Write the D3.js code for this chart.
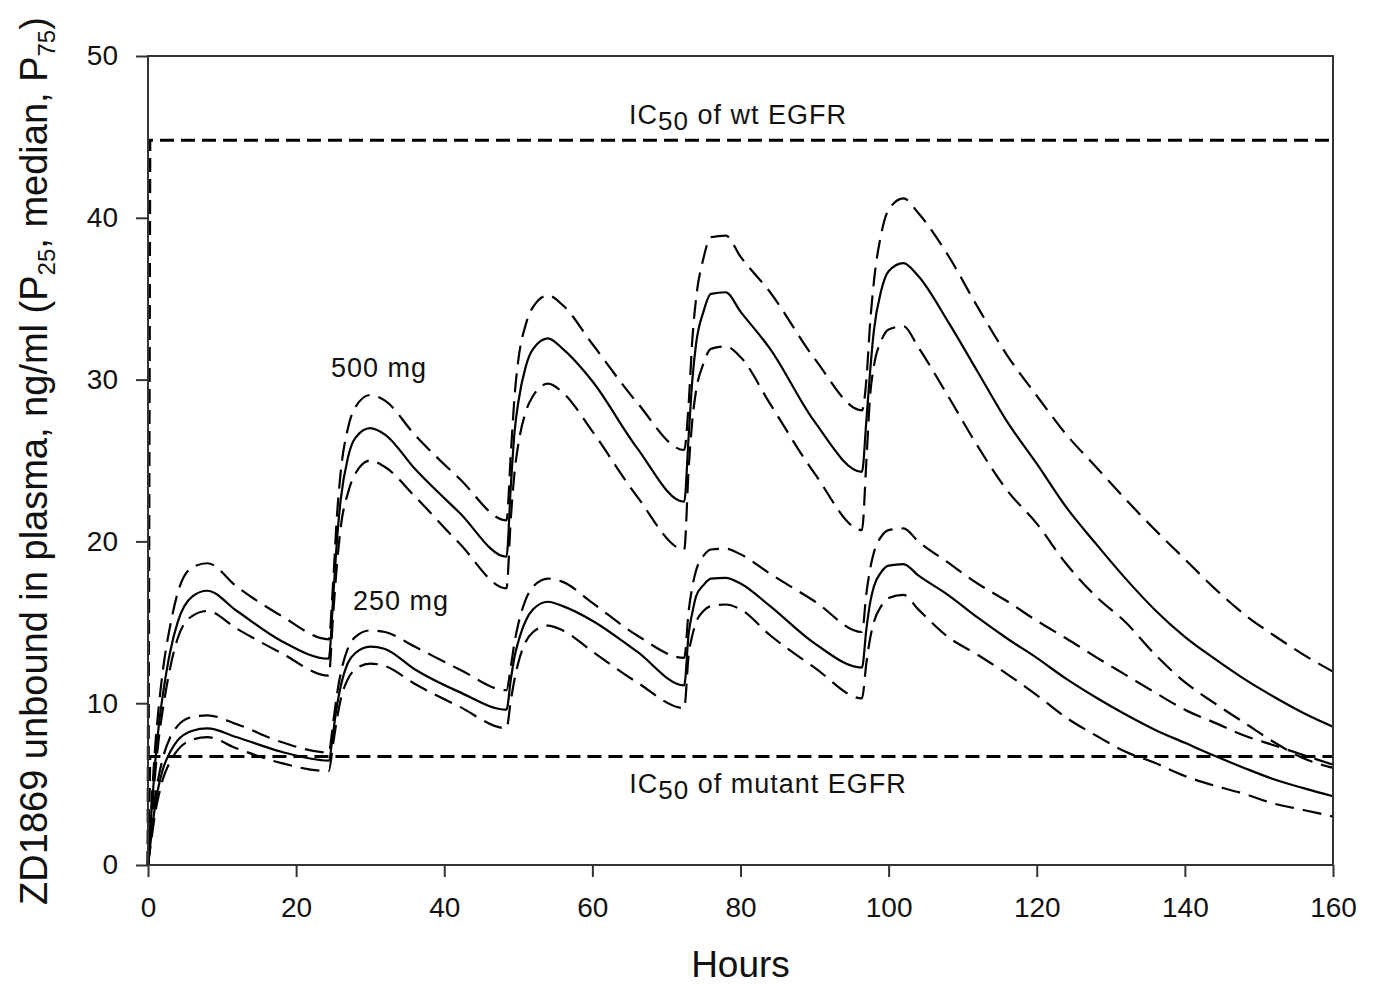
<!DOCTYPE html>
<html>
<head>
<meta charset="utf-8">
<script src="https://cdn.jsdelivr.net/npm/d3@7"></script>
<style>
  html, body { margin: 0; padding: 0; background: #fff; }
  svg { display: block; }
  text { font-family: "Liberation Sans", Arial, sans-serif; fill: #111; }
</style>
</head>
<body>
<svg id="chart" width="1376" height="985"></svg>
<script>
// ---------- data ----------
const hours = [0,0.5,1,1.5,2,3,4,6,8,12,18,24.4,
  25,25.5,26,27,28,30,32,36,42,48.4,
  49,49.5,50,51,52,54,56,60,66,72.4,
  73,73.5,74,75,76,78,80,84,90,96.4,
  97,97.5,98,99,100,102,104,108,112,116,120,124,128,132,136,140,144,148,152,156,160];

const median500 = [0,3.5,6.5,8.8,10.5,13.2,15.0,16.6,16.95,15.7,13.85,12.75,
  16.5,20.0,22.5,25.2,26.4,27.0,26.6,24.5,21.8,19.05,
  23.5,26.8,28.6,30.8,31.9,32.55,31.9,29.9,25.8,22.45,
  26.5,30.0,32.2,34.2,35.3,35.4,34.2,31.9,27.4,24.3,
  27.5,30.5,33.0,35.5,36.7,37.2,36.4,33.6,30.5,27.4,24.8,22.1,19.85,17.7,15.75,14.1,12.75,11.5,10.4,9.4,8.55];

const p75_500 = [0,4,7.5,10,12,14.8,16.8,18.4,18.65,17.2,15.4,13.95,
  17.5,21.5,24.2,27.0,28.3,29.05,28.7,26.6,23.9,21.3,
  25.5,29.0,31.2,33.4,34.5,35.2,34.6,32.2,28.6,25.65,
  28.5,32.5,35.0,37.5,38.8,38.9,37.6,35.4,31.3,28.1,
  30.0,33.5,36.0,39.0,40.5,41.2,40.3,37.7,34.5,31.5,29.0,26.6,24.6,22.6,20.7,18.9,17.1,15.5,14.2,13.0,11.95];

const p25_500 = [0,3,5.8,8,9.6,12.2,14.0,15.4,15.7,14.6,13.1,11.7,
  15.5,18.5,20.8,23.0,24.2,25.0,24.6,22.8,19.9,17.1,
  21.5,24.3,26.0,28.0,29.0,29.75,29.2,26.8,22.8,19.5,
  24.5,27.5,29.3,31.0,31.9,32.05,31.4,28.5,24.2,20.7,
  25.0,29.0,30.8,32.4,33.1,33.3,32.0,29.0,25.9,23.15,21.1,18.6,16.6,15.0,13.0,11.3,10.0,8.8,7.6,6.6,6.0];

const median250 = [0,2,3.8,5,5.9,7.0,7.7,8.3,8.45,7.9,7.0,6.45,
  8.2,9.8,11.0,12.5,13.1,13.5,13.35,12.1,10.7,9.6,
  11.5,12.9,13.8,15.1,15.8,16.27,16.0,15.1,13.2,11.1,
  14.3,15.6,16.6,17.3,17.7,17.75,17.4,16.0,13.7,12.2,
  14.6,16.2,17.2,18.1,18.5,18.6,17.9,16.7,15.3,14.0,12.8,11.5,10.35,9.3,8.35,7.55,6.75,6.0,5.3,4.75,4.25];

const p75_250 = [0,2.3,4.3,5.6,6.6,7.9,8.6,9.15,9.25,8.7,7.6,6.95,
  8.8,10.5,11.8,13.4,14.1,14.5,14.4,13.5,12.1,10.8,
  12.3,13.8,14.9,16.4,17.2,17.7,17.5,16.2,14.2,12.8,
  15.7,17.2,18.2,19.1,19.5,19.55,19.2,18.0,16.3,14.4,
  16.8,18.3,19.3,20.3,20.7,20.8,20.0,18.7,17.4,16.3,15.1,14.0,12.85,11.75,10.65,9.6,8.8,8.0,7.4,6.8,6.2];

const p25_250 = [0,1.7,3.3,4.4,5.3,6.4,7.1,7.75,7.9,7.2,6.3,5.8,
  7.5,9.0,10.2,11.5,12.1,12.45,12.3,11.2,9.8,8.45,
  10.2,11.5,12.5,13.8,14.4,14.8,14.5,13.2,11.3,9.7,
  13.0,14.2,15.0,15.7,16.0,16.1,15.8,14.2,12.2,10.3,
  12.5,14.0,15.0,16.0,16.5,16.7,15.8,14.1,13.0,11.8,10.5,9.1,8.0,7.0,6.3,5.5,4.9,4.4,3.8,3.4,3.0];

const ic50Wt = 44.8;
const ic50Mutant = 6.7;
const xTicks = [0,20,40,60,80,100,120,140,160];
const yTicks = [0,10,20,30,40,50];

// ---------- layout ----------
const svg = d3.select("#chart");
const L = 148, R = 1333, T = 56, B = 865;
const x = d3.scaleLinear().domain([0,160]).range([L,R]);
const y = d3.scaleLinear().domain([0,50]).range([B,T]);

const series = [
  {v: p75_500, dash: "19,9"}, {v: median500, dash: null}, {v: p25_500, dash: "19,9"},
  {v: p75_250, dash: "19,9"}, {v: median250, dash: null}, {v: p25_250, dash: "19,9"}
];

const line = d3.line().x(d => x(d[0])).y(d => y(d[1])).curve(d3.curveMonotoneX);

const g = svg.append("g");
series.forEach(s => {
  g.append("path")
    .datum(hours.map((h,i) => [h, s.v[i]]))
    .attr("d", line)
    .attr("fill","none")
    .attr("stroke","#000")
    .attr("stroke-width", 2.2)
    .attr("stroke-dasharray", s.dash);
});

// IC50 reference lines
const refLine = d3.line().x(d => x(d[0])).y(d => y(d[1]));
[ic50Wt, ic50Mutant].forEach(v => {
  g.append("path")
    .datum([[0,0],[0.25,v],[160,v]])
    .attr("d", refLine)
    .attr("fill","none")
    .attr("stroke","#000")
    .attr("stroke-width", 3)
    .attr("stroke-dasharray","14,7");
});

// frame
svg.append("rect").attr("x",L).attr("y",T).attr("width",R-L).attr("height",B-T)
  .attr("fill","none").attr("stroke","#333").attr("stroke-width",2);

// axes
const xAxis = svg.append("g").attr("transform",`translate(0,${B})`)
  .call(d3.axisBottom(x).tickValues(xTicks).tickSize(12).tickPadding(20).tickFormat(d3.format("d")));
const yAxis = svg.append("g").attr("transform",`translate(${L},0)`)
  .call(d3.axisLeft(y).tickValues(yTicks).tickSize(12).tickPadding(18).tickFormat(d3.format("d")));
[xAxis,yAxis].forEach(a => {
  a.select(".domain").remove();
  a.selectAll(".tick line").attr("stroke","#333").attr("stroke-width",2);
  a.selectAll(".tick text").attr("font-size",28).attr("fill","#111")
    .attr("font-family","'Liberation Sans', Arial, sans-serif");
});

// axis titles
svg.append("text").attr("x",(L+R)/2).attr("y",977).attr("text-anchor","middle")
  .attr("font-size",37).text("Hours");

const yt = svg.append("text").attr("transform",`translate(47,461) rotate(-90)`)
  .attr("text-anchor","middle").attr("font-size",38);
yt.append("tspan").text("ZD1869 unbound in plasma, ng/ml (P");
yt.append("tspan").attr("font-size",24).attr("dy",8).text("25");
yt.append("tspan").attr("dy",-8).text(", median, P");
yt.append("tspan").attr("font-size",24).attr("dy",8).text("75");
yt.append("tspan").attr("dy",-8).text(")");

// annotations
function icLabel(cx, by, rest) {
  const t = svg.append("text").attr("x",cx).attr("y",by).attr("text-anchor","middle")
    .attr("font-size",27).attr("letter-spacing",1).attr("fill","#222");
  t.append("tspan").text("IC");
  t.append("tspan").attr("dy",6).attr("font-size",26).text("50");
  t.append("tspan").attr("dy",-6).text(" " + rest);
}
icLabel(738, 124, "of wt EGFR");
icLabel(768, 793, "of mutant EGFR");

svg.append("text").attr("x",379).attr("y",377).attr("text-anchor","middle")
  .attr("font-size",27).attr("letter-spacing",1).attr("fill","#222").text("500 mg");
svg.append("text").attr("x",401).attr("y",610).attr("text-anchor","middle")
  .attr("font-size",27).attr("letter-spacing",1).attr("fill","#222").text("250 mg");
</script>
</body>
</html>
